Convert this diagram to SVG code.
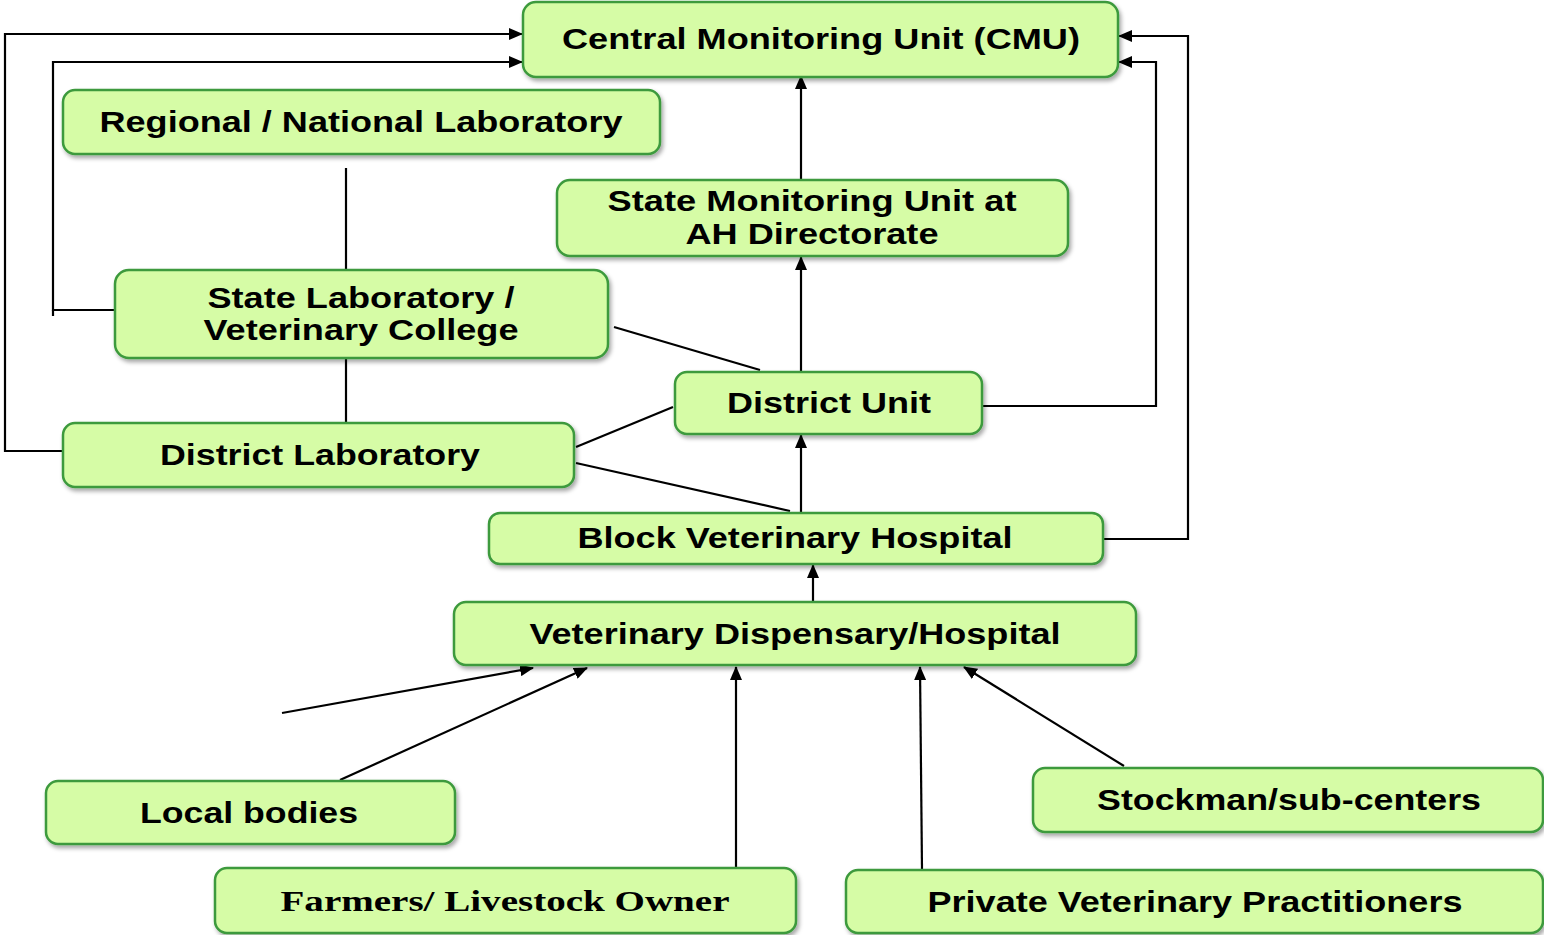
<svg xmlns="http://www.w3.org/2000/svg" width="1544" height="935" viewBox="0 0 1544 935">
<defs>
<filter id="sh" x="-5%" y="-20%" width="110%" height="150%">
<feDropShadow dx="2" dy="3" stdDeviation="2" flood-color="#000" flood-opacity="0.35"/>
</filter>
<marker id="ah" viewBox="0 0 14 12" refX="13" refY="6" markerWidth="14" markerHeight="12" markerUnits="userSpaceOnUse" orient="auto">
<path d="M0,0 L14,6 L0,12 z" fill="#000"/>
</marker>
</defs>
<style>
.n rect{fill:#d6fca6;stroke:#3c9a3c;stroke-width:2.5;filter:url(#sh)}
.n text{font-family:"Liberation Sans",Arial,sans-serif;font-weight:bold;font-size:29px;fill:#000;text-anchor:middle}
.n text.s{font-family:"Liberation Serif","Times New Roman",serif}
.c path{fill:none;stroke:#000;stroke-width:2.2}
.c path.a{marker-end:url(#ah)}
</style>
<rect width="1544" height="935" fill="#fff"/>
<g class="c">
<path class="a" d="M63,451 H5 V34 H522"/>
<path class="a" d="M115,310 H53 V62 H522"/>
<path d="M53,310 V316"/>
<path d="M346,168 V270"/>
<path d="M346,358 V423"/>
<path class="a" d="M801,180 V76"/>
<path class="a" d="M801,372 V257"/>
<path class="a" d="M801,513 V435"/>
<path class="a" d="M813,602 V565"/>
<path d="M614,327 L760,370"/>
<path d="M576,447 L673,407"/>
<path d="M576,463 L790,511"/>
<path class="a" d="M982,406 H1156 V62 H1119"/>
<path class="a" d="M1103,539 H1188 V36 H1119"/>
<path class="a" d="M282,713 L533,668"/>
<path class="a" d="M340,780 L587,668"/>
<path class="a" d="M736,868 V667"/>
<path class="a" d="M922,870 L920,667"/>
<path class="a" d="M1124,766 L964,667"/>
</g>
<g id="cmu" class="n"><rect x="523" y="2" width="595" height="75" rx="13"/><text x="821" y="49" textLength="518" lengthAdjust="spacingAndGlyphs">Central Monitoring Unit (CMU)</text></g>
<g id="regional" class="n"><rect x="63" y="90" width="597" height="64" rx="12"/><text x="361" y="132" textLength="523" lengthAdjust="spacingAndGlyphs">Regional / National Laboratory</text></g>
<g id="smu" class="n"><rect x="557" y="180" width="511" height="76" rx="13"/><text x="812" y="211" textLength="409" lengthAdjust="spacingAndGlyphs">State Monitoring Unit at</text><text x="812" y="244" textLength="253" lengthAdjust="spacingAndGlyphs">AH Directorate</text></g>
<g id="statelab" class="n"><rect x="115" y="270" width="493" height="88" rx="14"/><text x="361" y="308" textLength="307" lengthAdjust="spacingAndGlyphs">State Laboratory /</text><text x="361" y="340" textLength="315" lengthAdjust="spacingAndGlyphs">Veterinary College</text></g>
<g id="districtunit" class="n"><rect x="675" y="372" width="307" height="62" rx="12"/><text x="829" y="413" textLength="204" lengthAdjust="spacingAndGlyphs">District Unit</text></g>
<g id="districtlab" class="n"><rect x="63" y="423" width="511" height="64" rx="12"/><text x="320" y="465" textLength="320" lengthAdjust="spacingAndGlyphs">District Laboratory</text></g>
<g id="block" class="n"><rect x="489" y="513" width="614" height="51" rx="11"/><text x="795" y="548" textLength="435" lengthAdjust="spacingAndGlyphs">Block Veterinary Hospital</text></g>
<g id="dispensary" class="n"><rect x="454" y="602" width="682" height="63" rx="12"/><text x="795" y="644" textLength="531" lengthAdjust="spacingAndGlyphs">Veterinary Dispensary/Hospital</text></g>
<g id="local" class="n"><rect x="46" y="781" width="409" height="63" rx="12"/><text x="249" y="823" textLength="218" lengthAdjust="spacingAndGlyphs">Local bodies</text></g>
<g id="farmers" class="n"><rect x="215" y="868" width="581" height="65" rx="12"/><text class="s" x="505" y="911" textLength="449" lengthAdjust="spacingAndGlyphs">Farmers/ Livestock Owner</text></g>
<g id="stockman" class="n"><rect x="1033" y="768" width="510" height="64" rx="12"/><text x="1289" y="810" textLength="384" lengthAdjust="spacingAndGlyphs">Stockman/sub-centers</text></g>
<g id="private" class="n"><rect x="846" y="870" width="697" height="63" rx="12"/><text x="1195" y="912" textLength="535" lengthAdjust="spacingAndGlyphs">Private Veterinary Practitioners</text></g>
</svg>
